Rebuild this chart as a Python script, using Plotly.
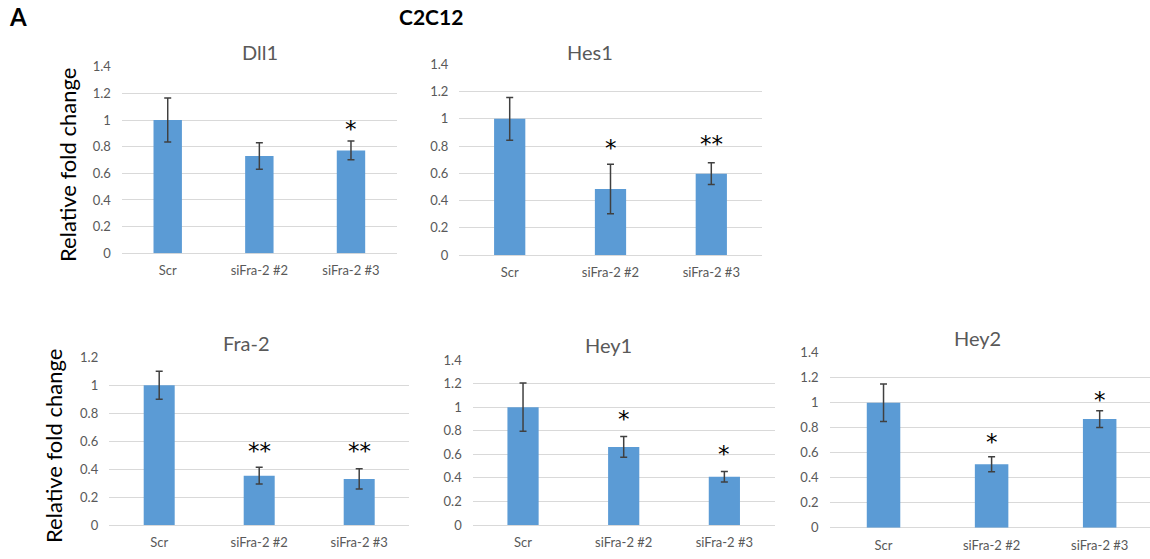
import plotly.graph_objects as go

W, H = 1150, 559

categories = ["Scr", "siFra-2 #2", "siFra-2 #3"]

dll1 = [1.0, 0.73, 0.772]
dll1_err = [0.165, 0.10, 0.07]
dll1_stars = ["", "", "*"]
dll1_star_y = [0, 0, 0.96]

hes1 = [1.0, 0.485, 0.597]
hes1_err = [0.157, 0.182, 0.08]
hes1_stars = ["", "*", "**"]
hes1_star_y = [0, 0.815, 0.845]

fra2 = [1.0, 0.353, 0.33]
fra2_err = [0.10, 0.06, 0.073]
fra2_stars = ["", "**", "**"]
fra2_star_y = [0, 0.56, 0.56]

hey1 = [1.0, 0.662, 0.41]
hey1_err = [0.205, 0.088, 0.045]
hey1_stars = ["", "*", "*"]
hey1_star_y = [0, 0.93, 0.64]

hey2 = [1.0, 0.507, 0.869]
hey2_err = [0.15, 0.06, 0.067]
hey2_stars = ["", "*", "*"]
hey2_star_y = [0, 0.715, 1.056]

panels = [
    dict(name="Dll1", v=dll1, e=dll1_err, s=dll1_stars, sy=dll1_star_y, ymax=1.4,
         xpx=(121.9, 396.8), ypx=(253.3, 66.7), tpos=(260, 52)),
    dict(name="Hes1", v=hes1, e=hes1_err, s=hes1_stars, sy=hes1_star_y, ymax=1.4,
         xpx=(459.3, 761.7), ypx=(255, 64.3), tpos=(590, 52)),
    dict(name="Fra-2", v=fra2, e=fra2_err, s=fra2_stars, sy=fra2_star_y, ymax=1.2,
         xpx=(109.2, 409.2), ypx=(525, 357.3), tpos=(247, 343)),
    dict(name="Hey1", v=hey1, e=hey1_err, s=hey1_stars, sy=hey1_star_y, ymax=1.4,
         xpx=(472.7, 774.7), ypx=(525, 360), tpos=(608, 345)),
    dict(name="Hey2", v=hey2, e=hey2_err, s=hey2_stars, sy=hey2_star_y, ymax=1.4,
         xpx=(829.5, 1153.7), ypx=(527.7, 352.7), tpos=(977, 338)),
]

BAR = "#5b9bd5"
GRID = "#d9d9d9"
TXT = "#595959"
FONT = "Lato"

fig = go.Figure()
layout = dict(width=W, height=H, margin=dict(l=0, r=0, t=0, b=0, pad=0),
              autosize=False,
              paper_bgcolor="white", plot_bgcolor="white", showlegend=False,
              font=dict(family=FONT, color=TXT))
annotations = []

for i, p in enumerate(panels, start=1):
    xa = "x" if i == 1 else f"x{i}"
    ya = "y" if i == 1 else f"y{i}"
    fig.add_trace(go.Bar(
        x=[0, 1, 2], y=p["v"], width=0.31, marker=dict(color=BAR, line=dict(width=0)),
        error_y=dict(type="data", array=p["e"], visible=True, color="#404040",
                     thickness=1.5, width=3.5),
        xaxis=xa, yaxis=ya, hoverinfo="skip"))
    x0, x1 = p["xpx"]
    d0 = x0 / W
    d1 = min(x1, W) / W
    spacing = (x1 - x0) / 3.0
    rng_hi = -0.5 + (min(x1, W) - x0) / spacing
    yb, yt = p["ypx"]
    layout["xaxis" if i == 1 else f"xaxis{i}"] = dict(
        domain=[d0, d1], range=[-0.5, rng_hi], anchor=ya, automargin=False,
        tickmode="array", tickvals=[0, 1, 2], ticktext=categories,
        showgrid=False, zeroline=False, showline=False, ticks="",
        tickfont=dict(size=13, color=TXT, family=FONT), ticklabelstandoff=8,
        fixedrange=True)
    layout["yaxis" if i == 1 else f"yaxis{i}"] = dict(
        domain=[1 - yb / H, 1 - yt / H], range=[0, p["ymax"]], anchor=xa, automargin=False,
        dtick=0.2, tickformat="~g", showgrid=True, gridcolor=GRID, gridwidth=1,
        zeroline=True, zerolinecolor=GRID, zerolinewidth=1, showline=False, ticks="",
        tickfont=dict(size=13, color=TXT, family=FONT), ticklabelstandoff=10,
        fixedrange=True)
    annotations.append(dict(text=p["name"], x=p["tpos"][0] / W, y=1 - p["tpos"][1] / H,
                            xref="paper", yref="paper", showarrow=False,
                            xanchor="center", yanchor="middle",
                            font=dict(size=20, color=TXT, family=FONT)))
    for k, (s, sy) in enumerate(zip(p["s"], p["sy"])):
        if s:
            annotations.append(dict(text=s, x=k, y=sy, xref=xa, yref=ya, showarrow=False,
                                    xanchor="center", yanchor="middle", yshift=-4,
                                    font=dict(size=23, color="black", family="DejaVu Sans")))

annotations.append(dict(text="Relative fold change", x=67 / W, y=1 - 165 / H,
                        xref="paper", yref="paper", showarrow=False, textangle=-90,
                        xanchor="center", yanchor="middle",
                        font=dict(size=22, color="black", family=FONT)))
annotations.append(dict(text="Relative fold change", x=53 / W, y=1 - 446 / H,
                        xref="paper", yref="paper", showarrow=False, textangle=-90,
                        xanchor="center", yanchor="middle",
                        font=dict(size=22, color="black", family=FONT)))
annotations.append(dict(text="<b>A</b>", x=7 / W, y=1 - 17 / H, xref="paper", yref="paper",
                        showarrow=False, xanchor="left", yanchor="middle",
                        font=dict(size=24, color="black", family=FONT)))
annotations.append(dict(text="<b>C2C12</b>", x=431 / W, y=1 - 17 / H, xref="paper", yref="paper",
                        showarrow=False, xanchor="center", yanchor="middle",
                        font=dict(size=21, color="black", family=FONT)))

layout["annotations"] = annotations
fig.update_layout(**layout)
fig.write_html("out.html", config={"displayModeBar": False},
               post_script="document.body.style.margin='0';document.body.style.overflow='hidden';")
